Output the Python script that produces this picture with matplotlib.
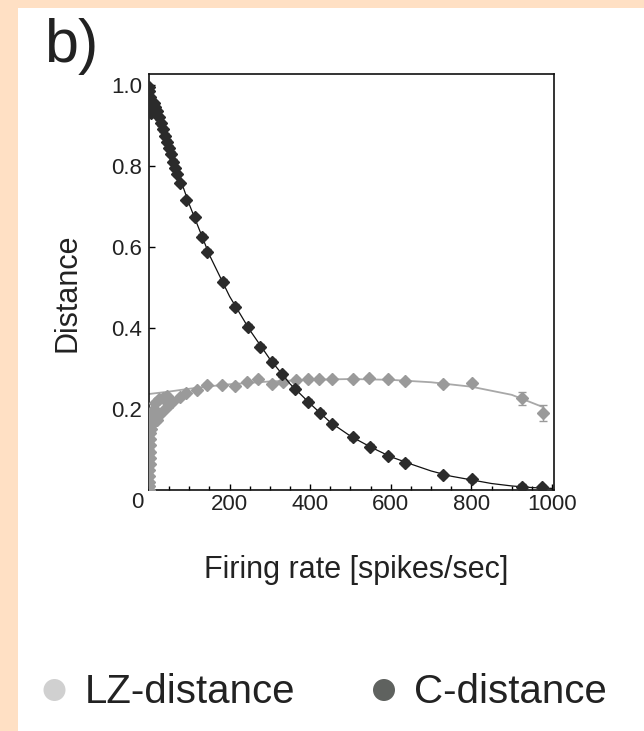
import numpy as np
import matplotlib
matplotlib.use("Agg")
import matplotlib.pyplot as plt
from matplotlib.patches import Rectangle, Ellipse
from matplotlib.ticker import MultipleLocator

plt.rcParams["font.family"] = ["Liberation Sans", "DejaVu Sans"]

# --- data ---
c_x = [0.5, 1, 2, 3, 4, 5, 6, 8, 10, 12, 15, 20, 25, 30, 35, 40, 45, 50, 55, 60, 65, 70,
       77, 93, 114, 131, 145, 183, 213, 246, 275, 306, 329, 362, 395, 424, 453,
       505, 548, 594, 635, 730, 801, 925, 974]
c_y = [0.995, 0.985, 0.97, 0.955, 0.945, 0.935, 0.93, 0.94, 0.95, 0.955, 0.945, 0.935,
       0.92, 0.905, 0.89, 0.875, 0.86, 0.845, 0.83, 0.81, 0.795, 0.78,
       0.758, 0.716, 0.674, 0.625, 0.588, 0.514, 0.453, 0.403, 0.354, 0.317, 0.286,
       0.250, 0.218, 0.191, 0.163, 0.130, 0.107, 0.084, 0.067, 0.037, 0.026, 0.008, 0.007]
c_err = [0.006] * len(c_x)

c_fit_x = [0, 50, 100, 150, 200, 250, 300, 350, 400, 450, 500, 550, 600, 650, 700,
           750, 800, 850, 900, 950, 1000]
c_fit_y = [1.0, 0.845, 0.705, 0.58, 0.478, 0.395, 0.323, 0.262, 0.213, 0.167, 0.133,
           0.106, 0.082, 0.064, 0.047, 0.034, 0.025, 0.016, 0.010, 0.006, 0.004]

lz_x = [0.2, 0.3, 0.5, 0.7, 1, 1.3, 1.6, 2, 2.5, 3, 3.5, 4, 5, 6, 8, 10, 13, 15, 19,
        25, 31, 35, 44, 45, 56, 77, 93, 118, 143, 180, 213, 242, 271, 306, 333, 366,
        395, 423, 453, 505, 547, 594, 635, 730, 801, 925, 977]
lz_y = [0.0, 0.01, 0.02, 0.035, 0.05, 0.065, 0.08, 0.095, 0.11, 0.125, 0.14, 0.15,
        0.16, 0.17, 0.18, 0.19, 0.2, 0.215, 0.173, 0.225, 0.189, 0.228, 0.206, 0.232,
        0.218, 0.23, 0.239, 0.247, 0.259, 0.259, 0.257, 0.267, 0.273, 0.262, 0.267,
        0.272, 0.273, 0.274, 0.273, 0.273, 0.276, 0.273, 0.270, 0.262, 0.263, 0.226,
        0.191]
lz_err = [0.005] * (len(lz_x) - 2) + [0.017, 0.02]

lz_fit_x = [0, 50, 100, 150, 200, 300, 400, 500, 600, 700, 800, 900, 977]
lz_fit_y = [0.237, 0.243, 0.250, 0.256, 0.261, 0.268, 0.272, 0.274, 0.272, 0.266,
            0.255, 0.235, 0.205]

PEACH = "#FFE0C4"
LZ_COL = "#9a9a9a"
C_COL = "#2b2b2b"
TXT = "#222222"

W, H = 644, 731
fig = plt.figure(figsize=(W / 100, H / 100), dpi=100, facecolor=PEACH)
fig.patches.append(Rectangle((18 / W, 0), 1, 1 - 8 / H, transform=fig.transFigure,
                             facecolor="white", edgecolor="none", zorder=-5))

ax = fig.add_axes([149 / W, 1 - 490 / H, 405 / W, 416 / H])
ax.set_zorder(2)
ax.set_xlim(0, 1005)
ax.set_ylim(0, 1.027)

ax.plot(lz_fit_x, lz_fit_y, color="#a8a8a8", lw=1.3, zorder=2)
ax.errorbar(lz_x, lz_y, yerr=lz_err, fmt="D", ms=6.3, color=LZ_COL, ecolor=LZ_COL,
            elinewidth=1, capsize=3, zorder=3)
ax.plot(c_fit_x, c_fit_y, color="#111111", lw=0.9, zorder=4)
ax.errorbar(c_x, c_y, yerr=c_err, fmt="D", ms=6.3, color=C_COL, ecolor=C_COL,
            elinewidth=1, capsize=3, zorder=5)

for s in ax.spines.values():
    s.set_linewidth(1.2)
    s.set_color("#111111")

ax.set_xticks([200, 400, 600, 800, 1000])
ax.xaxis.set_minor_locator(MultipleLocator(50))
ax.set_yticks([0.2, 0.4, 0.6, 0.8, 1.0])
ax.set_yticklabels(["0.2", "0.4", "0.6", "0.8", "1.0"])
ax.tick_params(direction="in", length=4, width=1, labelsize=16, labelcolor=TXT,
               top=False, right=False)
ax.tick_params(axis="x", pad=3)
ax.tick_params(axis="y", pad=5)
ax.tick_params(axis="x", which="minor", direction="in", length=3, width=1)
ax.text(-30, -0.03, "0", fontsize=16, color=TXT, ha="center", va="center", clip_on=False)

fig.text(68 / W, 1 - 293 / H, "Distance", rotation=90, fontsize=22, color=TXT,
         ha="center", va="center")
fig.text(356 / W, 1 - 570 / H, "Firing rate [spikes/sec]", fontsize=22, color=TXT,
         ha="center", va="center")
fig.text(44 / W, 1 - 62 / H, "b)", fontsize=44, color=TXT, ha="left", va="baseline")

# legend row
for cx, col, label in [(54.5, "#d0d0d0", "LZ-distance"), (384, "#5f625f", "C-distance")]:
    fig.patches.append(Ellipse((cx / W, 1 - 690 / H), 22 / W, 22 / H,
                               transform=fig.transFigure, facecolor=col, edgecolor="none"))
    fig.text((cx + 30) / W, 1 - 703 / H, label, fontsize=29, color=TXT,
             ha="left", va="baseline")

fig.savefig("out.png", dpi=100, facecolor=PEACH)
